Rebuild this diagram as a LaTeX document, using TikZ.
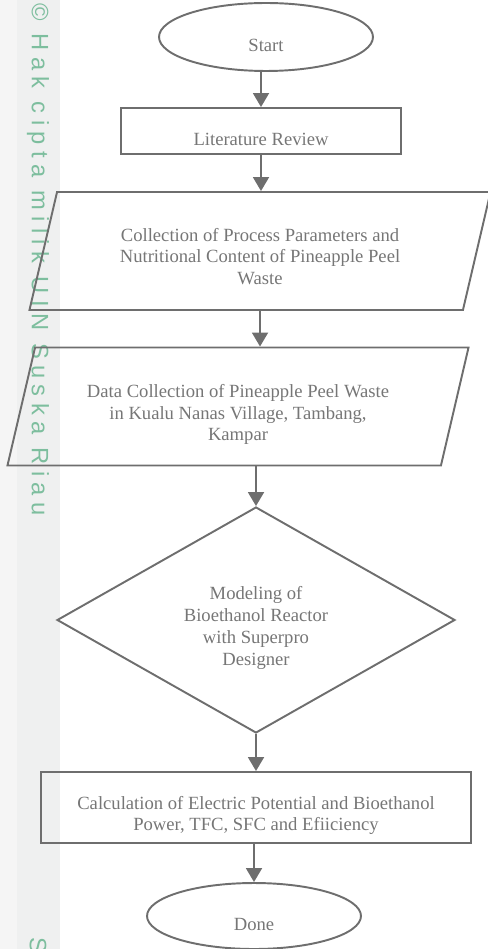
\documentclass[tikz,border=0pt]{standalone}
\usepackage{fontspec}
\setmainfont{Liberation Serif}
\newfontfamily\wmfont[LetterSpace=27]{Liberation Sans}
\usetikzlibrary{shapes.geometric,arrows.meta}
\definecolor{linegray}{HTML}{6E6E6E}
\definecolor{textgray}{HTML}{767676}
\definecolor{wmgreen}{HTML}{7DBE9E}
\definecolor{stripgray}{HTML}{EFF0F0}
\definecolor{stripedge}{HTML}{F5F5F5}

\begin{document}
\begin{tikzpicture}[x=0.02cm,y=-0.02cm,
  base/.style={draw=linegray,line width=1.1pt,inner sep=2pt},
  term/.style={base,ellipse,minimum width=4.28cm,minimum height=1.36cm},
  proc/.style={base,rectangle},
  io/.style={base,trapezium,trapezium left angle=76,trapezium right angle=104,
    trapezium stretches=true,inner sep=0pt,text width=4cm,text height=0.6cm,
    text depth=0.49cm,minimum width=9.24cm,minimum height=2.36cm},
  decision/.style={base,diamond,minimum width=7.96cm,minimum height=4.52cm},
  txt/.style={text=textgray,align=center,inner sep=0pt,yshift=-0.16cm,
    font=\fontsize{10.6}{12.4}\selectfont},
  wm/.style={font=\wmfont\fontsize{13.5}{16}\selectfont,text=wmgreen,rotate=-90,
    anchor=west,inner sep=0pt},
  flow/.style={draw=linegray,line width=1.1pt,-{Triangle[width=0.32cm,length=0.28cm]}}
]
\useasboundingbox (0,0) rectangle (487,949);
% watermark strip
\fill[stripedge] (0,0) rectangle (17,949);
\fill[stripgray] (17,0) rectangle (60,949);
\node[wm] (wm)  at (38,3)   {\textcopyright{} Hak cipta milik UIN Suska Riau};
\node[wm] (wm2) at (38,937) {S};

% flowchart shapes
\node[term]                                           (start) at (266,37)    {};
\node[proc,minimum width=5.6cm,minimum height=0.92cm] (lit)   at (261,131)   {};
\node[io]                                             (param) at (260,251)   {};
\node[io]                                             (data)  at (238,406.5) {};
\node[decision]                                       (model) at (256,620)   {};
\node[proc,minimum width=8.6cm,minimum height=1.42cm] (calc)  at (256,807.5) {};
\node[term,minimum height=1.32cm]                     (done)  at (254,916)   {};

% texts
\node[txt] (start-t) at (start) {Start};
\node[txt] (lit-t)   at (lit)   {Literature Review};
\node[txt,yshift=0.05cm] (param-t) at (param) {Collection of Process Parameters and\\Nutritional Content of Pineapple Peel\\Waste};
\node[txt] (data-t)  at (data)  {Data Collection of Pineapple Peel Waste\\in Kualu Nanas Village, Tambang,\\Kampar};
\node[txt] (model-t) at (model) {Modeling of\\Bioethanol Reactor\\with Superpro\\Designer};
\node[txt] (calc-t)  at (calc)  {Calculation of Electric Potential and Bioethanol\\Power, TFC, SFC and Efiiciency};
\node[txt] (done-t)  at (done)  {Done};

\draw[flow] (lit.north |- start.south) -- (lit.north);
\draw[flow] (lit.south) -- (param.north -| lit.south);
\draw[flow] (param.south) -- (param.south |- data.north);
\draw[flow] (model.north |- data.south) -- (model.north);
\draw[flow] (model.south) -- (calc.north -| model.south);
\draw[flow] (done.north |- calc.south) -- (done.north);
\end{tikzpicture}
\end{document}
